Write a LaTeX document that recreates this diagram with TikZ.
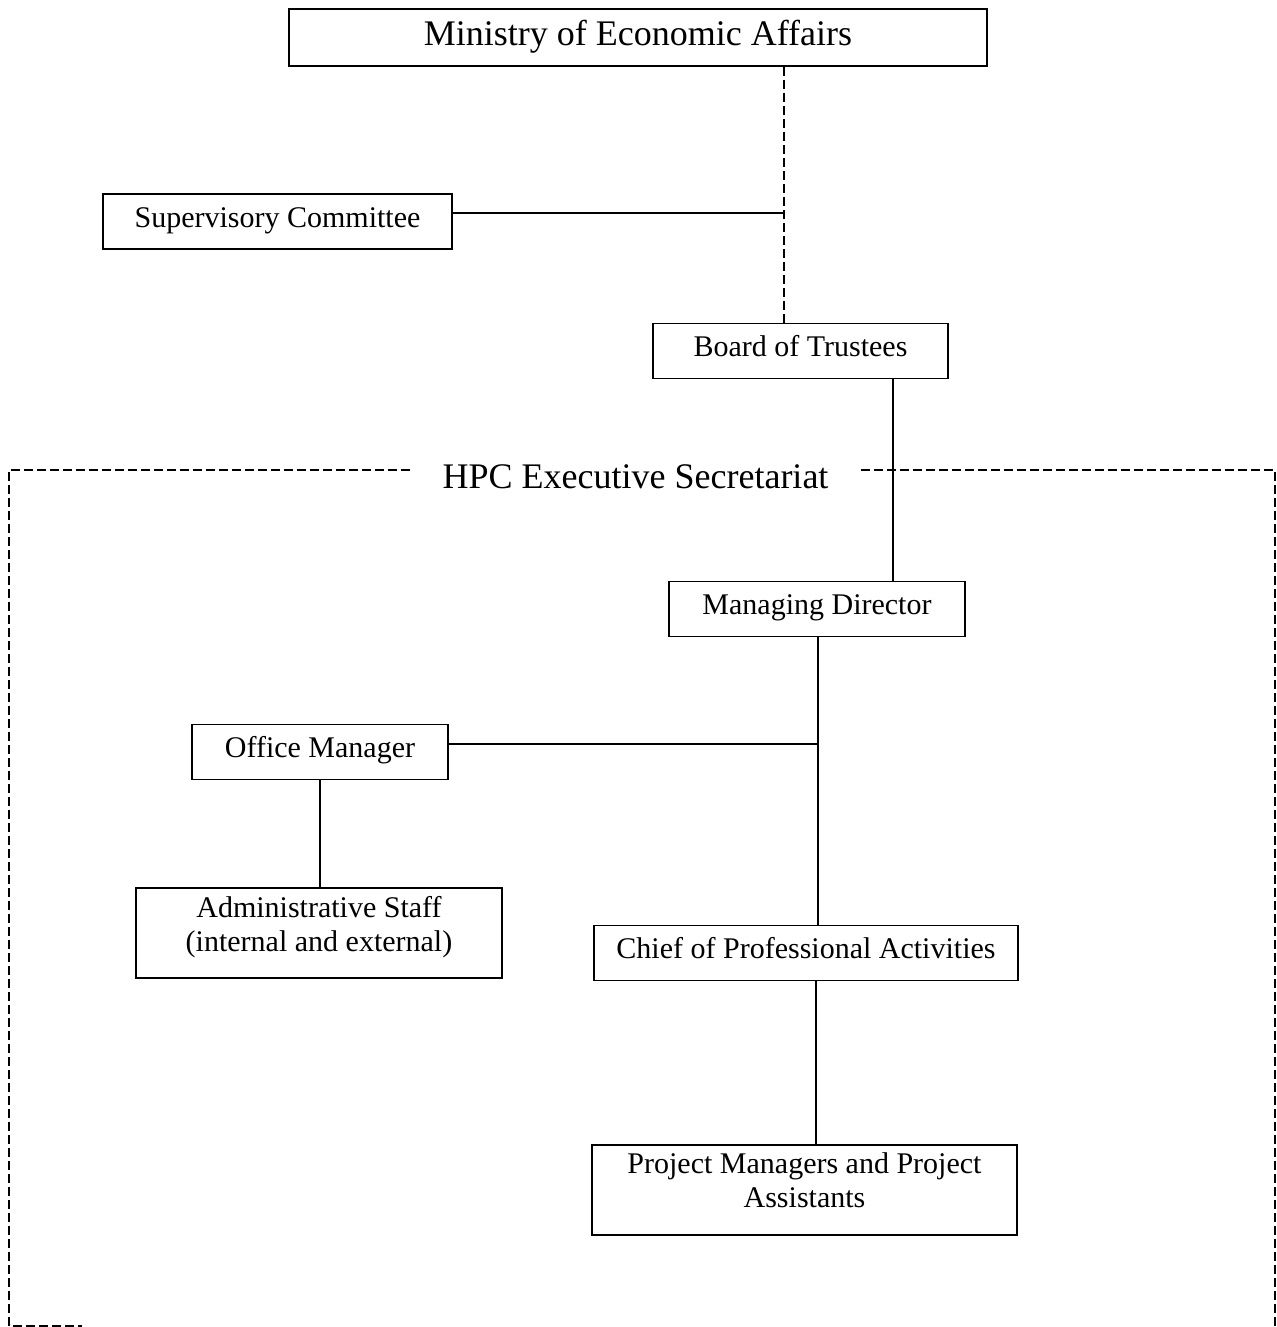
\documentclass[tikz,border=0pt]{standalone}
\usepackage{fontspec}
\setmainfont{Liberation Serif}
\begin{document}
\begin{tikzpicture}[x=1pt, y=-1pt,
    box/.style={draw, line width=0.75pt, inner xsep=0pt, inner ysep=0pt,
        font=\fontsize{15}{17}\selectfont, text height=16.5pt, text depth=11pt},
    link/.style={line width=0.75pt},
    dashline/.style={line width=0.75pt, dash pattern=on 4.5pt off 2pt}]
    \useasboundingbox (0,0) rectangle (638.5,663.5);
    % boxes, centres taken from the page
    \node[box, font=\fontsize{18}{20}\selectfont, minimum width=349pt,
        text height=18.5pt, text depth=10pt] (min) at (319,18.75) {Ministry of Economic Affairs};
    \node[box, minimum width=174.5pt] (sup) at (138.75,110.75) {Supervisory Committee};
    \node[box, minimum width=147.5pt] (bot) at (400.25,175.5) {Board of Trustees};
    \node[box, minimum width=148pt] (md) at (408.5,304.5) {Managing Director};
    \node[box, minimum width=128pt] (om) at (160,376) {Office Manager};
    \node[box, minimum width=212pt] (chief) at (403,476.5) {Chief of Professional Activities};
    \node[box, text width=183pt, align=flush center, text height=14.5pt, text depth=30.5pt]
        (adm) at (159.5,466.5) {Administrative Staff\\(internal and external)};
    \node[box, text width=212.5pt, align=flush center, text height=14pt, text depth=31pt]
        (pm) at (402.25,595) {Project Managers and Project\\Assistants};
    % the secretariat frame, open under the title
    \node[font=\fontsize{18}{20}\selectfont, inner xsep=16pt, anchor=base]
        (hpc) at (317.75,244.25) {HPC Executive Secretariat};
    \coordinate (ftl) at (4.5,235);
    \coordinate (ftr) at (637.5,235);
    \coordinate (fbl) at (4.5,663);
    \coordinate (fbr) at (637.5,663);
    \coordinate (fbe) at (41,663);
    \draw[dashline] (hpc.west |- ftl) -- (ftl) -- (fbl) -- (fbe);
    \draw[dashline] (hpc.east |- ftr) -- (ftr) -- (fbr);
    % connectors
    \coordinate (sj) at (392,106.5);
    \coordinate (bj) at (446.5,240);
    \coordinate (oj) at (409,372);
    \coordinate (cj) at (408,540);
    \draw[dashline] (min.south -| sj) -- (bot.north -| sj);
    \draw[link] (sup.east |- sj) -- (sj);
    \draw[link] (bot.south -| bj) -- (md.north -| bj);
    \draw[link] (md.south -| oj) -- (chief.north -| oj);
    \draw[link] (om.east |- oj) -- (oj);
    \draw[link] (om.south) -- (om.south |- adm.north);
    \draw[link] (chief.south -| cj) -- (pm.north -| cj);
\end{tikzpicture}
\end{document}
